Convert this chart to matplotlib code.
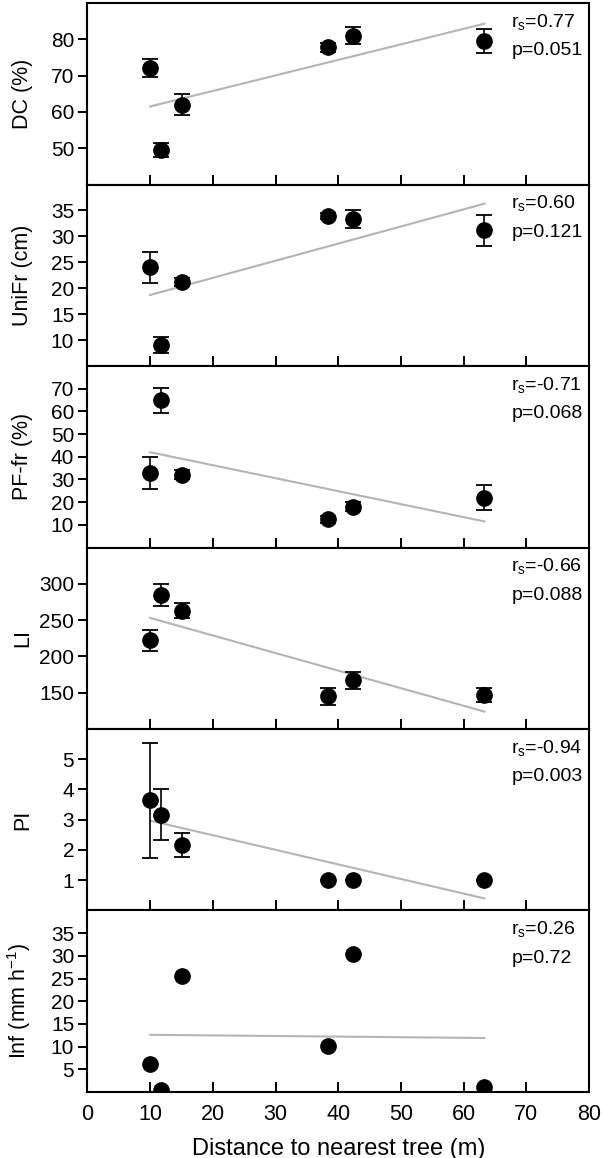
import matplotlib.pyplot as plt

plt.rcParams['font.family'] = ['Liberation Sans', 'DejaVu Sans']
plt.rcParams['mathtext.default'] = 'regular'

# distância à árvore mais próxima (m)
distance = [10, 11.8, 15, 38.4, 42.3, 63.3]

dc = [72, 49.5, 62, 77.8, 81, 79.5]
dc_err = [2.5, 2, 2.8, 1.2, 2.3, 3.3]

unifr = [24, 9, 21.2, 34, 33.3, 31.2]
unifr_err = [3, 1.5, 0.8, 0.6, 1.7, 3]

pffr = [33, 65, 32, 12.5, 18, 22]
pffr_err = [7, 5.5, 2, 1.5, 2, 5.5]

li = [222, 285, 263, 145, 167, 147]
li_err = [15, 15, 10, 12, 12, 10]

pi = [3.65, 3.17, 2.17, 1, 1, 1]
pi_err = [1.9, 0.83, 0.4, 0, 0, 0]

inf = [6.2, 0.5, 25.6, 10.1, 30.4, 1.0]

# linha de tendência: y no início e no fim
trend_x = [10, 63.3]
dc_trend = [61.5, 84.3]
unifr_trend = [18.7, 36.3]
pffr_trend = [42, 11.5]
li_trend = [253, 124]
pi_trend = [2.97, 0.4]
inf_trend = [12.6, 11.9]

r_s = ['0.77', '0.60', '-0.71', '-0.66', '-0.94', '0.26']
p_vals = ['0.051', '0.121', '0.068', '0.088', '0.003', '0.72']

labels = ['DC (%)', 'UniFr (cm)', 'PF-fr (%)', 'LI', 'PI', 'Inf (mm h$^{-1}$)']
ylims = [(40, 90), (5, 40), (0, 80), (100, 350), (0, 6), (0, 40)]
yticks = [[50, 60, 70, 80], [10, 15, 20, 25, 30, 35], [10, 20, 30, 40, 50, 60, 70],
          [150, 200, 250, 300], [1, 2, 3, 4, 5], [5, 10, 15, 20, 25, 30, 35]]

values = [dc, unifr, pffr, li, pi, inf]
errors = [dc_err, unifr_err, pffr_err, li_err, pi_err, None]
trends = [dc_trend, unifr_trend, pffr_trend, li_trend, pi_trend, inf_trend]

fig, axes = plt.subplots(6, 1, figsize=(6.03, 11.58), dpi=100, sharex=True)
fig.subplots_adjust(left=0.145, right=0.977, top=0.9974, bottom=0.057, hspace=0)

for i, ax in enumerate(axes):
    ax.plot(trend_x, trends[i], color='#b4b4b4', lw=1.5, zorder=1)
    ax.errorbar(distance, values[i], yerr=errors[i], fmt='o', color='black',
                markersize=11, elinewidth=1.2, capsize=6, capthick=1.3, zorder=3)
    ax.set_xlim(0, 80)
    ax.set_ylim(*ylims[i])
    ax.set_yticks(yticks[i])
    ax.set_xticks(range(0, 81, 10))
    ax.tick_params(axis='x', direction='in', length=7, width=1.4, labelsize=15.5, pad=9)
    ax.tick_params(axis='y', direction='out', length=6.5, width=1.4, labelsize=15, pad=3)
    for s in ax.spines.values():
        s.set_linewidth(1.5)
    ax.set_ylabel(labels[i], fontsize=15.5)
    ax.yaxis.set_label_coords(-0.108, 0.5)
    ax.text(67.6, 0.868, 'r$_s$=' + r_s[i], transform=ax.get_xaxis_transform(),
            fontsize=14, ha='left', va='baseline')
    ax.text(67.6, 0.711, 'p=' + p_vals[i], transform=ax.get_xaxis_transform(),
            fontsize=14, ha='left', va='baseline')

axes[-1].set_xlabel('Distance to nearest tree (m)', fontsize=17, labelpad=9)

plt.savefig('out.png')
